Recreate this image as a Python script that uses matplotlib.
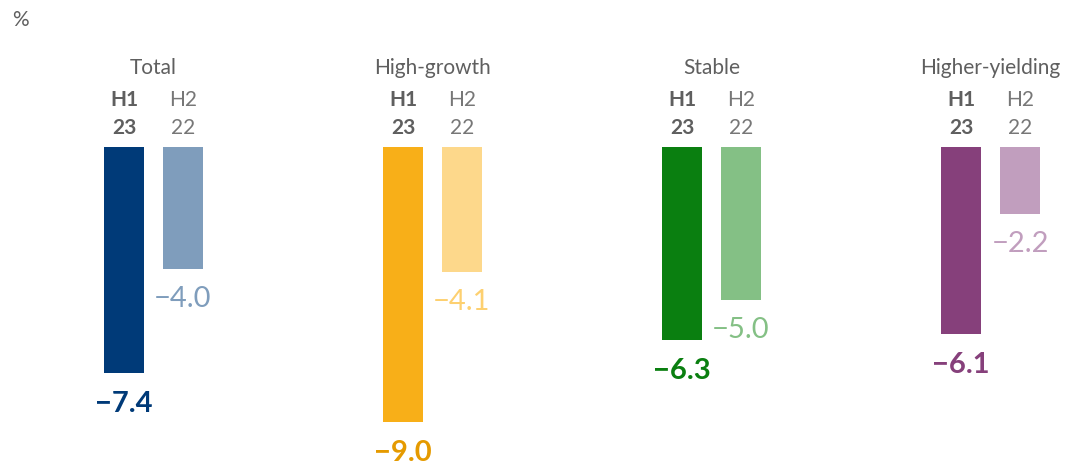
import matplotlib.pyplot as plt

# === DATA ===
categories = ["Total", "High-growth", "Stable", "Higher-yielding"]
h1_values = [-7.4, -9.0, -6.3, -6.1]
h2_values = [-4.0, -4.1, -5.0, -2.2]
h1_label = ["H1", "23"]
h2_label = ["H2", "22"]

h1_colors = ["#003A78", "#F8AF18", "#0A7F10", "#86407B"]
h2_colors = ["#7F9DBC", "#FDD88B", "#84C085", "#C19EBE"]
h1_text_colors = ["#003A78", "#E59A00", "#0A7F10", "#86407B"]
h2_text_colors = ["#7F9DBC", "#FDD070", "#84C085", "#C19EBE"]

plt.rcParams['font.family'] = ['Lato', 'DejaVu Sans']
gray = "#5F5F5F"

# === FIGURE ===
fig = plt.figure(figsize=(10.69, 4.65), dpi=100)
ax = fig.add_axes([0, 0, 1, 1])
ax.set_xlim(-0.550, 3.281)
ax.set_ylim(-10.39, 4.80)
ax.axis("off")

width = 0.1434
off = 0.1057
px = 1 / 30.6  # one pixel in data units (y)

for i, cat in enumerate(categories):
    x1 = i - off
    x2 = i + off
    ax.bar(x1, h1_values[i], width=width, color=h1_colors[i])
    ax.bar(x2, h2_values[i], width=width, color=h2_colors[i])

    # value labels
    ax.text(x1, h1_values[i] - 31 * px, f"\u2212{abs(h1_values[i]):.1f}",
            ha="center", va="center", fontsize=21, fontweight="bold",
            color=h1_text_colors[i])
    ax.text(x2, h2_values[i] - 30 * px, f"\u2212{abs(h2_values[i]):.1f}",
            ha="center", va="center", fontsize=21, fontweight="normal",
            color=h2_text_colors[i])

    # headers
    ax.text(i, 79 * px, cat, ha="center", va="center", fontsize=15,
            fontweight="normal", color=gray)
    for k in range(2):
        y = (47 - 28 * k) * px
        ax.text(x1, y, h1_label[k], ha="center", va="center", fontsize=15,
                fontweight="bold", color=gray)
        ax.text(x2, y, h2_label[k], ha="center", va="center", fontsize=15,
                fontweight="normal", color="#777777")

fig.text(20 / 1069, 1 - 20 / 465, "%", ha="center", va="center",
         fontsize=15, fontweight="normal", color=gray)

plt.savefig("out.png", dpi=100)
